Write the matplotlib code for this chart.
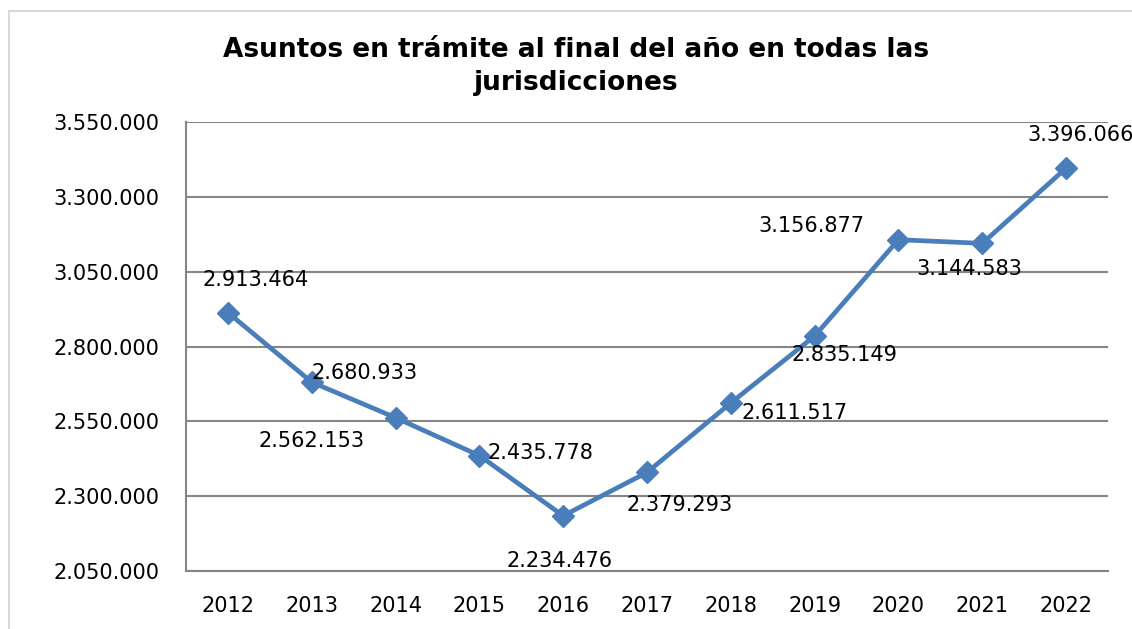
import matplotlib.pyplot as plt
from matplotlib.patches import Rectangle

years = ["2012", "2013", "2014", "2015", "2016", "2017", "2018", "2019", "2020", "2021", "2022"]
asuntos = [2913464, 2680933, 2562153, 2435778, 2234476, 2379293, 2611517, 2835149, 3156877, 3144583, 3396066]
# label offsets in pixels, relative to each point
label_dx = [28, 53, -84, 61, -4, 33, 64, 30, -87, -13, 15]
label_dy = [33, 9, -23, 3, -45, -33, -10, -19, 14, -26, 33]
y_ticks = [2050000, 2300000, 2550000, 2800000, 3050000, 3300000, 3550000]


def fmt(v):
    return f"{v:,}".replace(",", ".")


plt.rcParams['font.family'] = ['DejaVu Sans']

fig = plt.figure(figsize=(11.32, 6.29), dpi=100)
ax = fig.add_axes([0.1643, 0.0922, 0.8145, 0.7138])

# outer chart border
fig.patches.append(Rectangle((9 / 1132, -0.1), 1.2, 1.0825, transform=fig.transFigure,
                             fill=False, edgecolor="#D9D9D9", linewidth=1.5))

x = list(range(len(years)))
ax.plot(x, asuntos, color="#4A7EBB", linewidth=3.4, marker="D", markersize=11,
        markerfacecolor="#4A7EBB", markeredgecolor="#4A7EBB", zorder=3, clip_on=False)

for i, v in enumerate(asuntos):
    ax.annotate(fmt(v), (x[i], v), xytext=(label_dx[i], label_dy[i]), textcoords="offset pixels",
                ha="center", va="center", fontsize=15, annotation_clip=False)

ax.set_xlim(-0.5, len(years) - 0.5)
ax.set_ylim(y_ticks[0], y_ticks[-1])
ax.set_xticks(x)
ax.set_xticklabels(years, fontsize=15)
ax.set_yticks(y_ticks)
ax.set_yticklabels([fmt(t) for t in y_ticks], fontsize=15)
ax.tick_params(length=0)
ax.tick_params(axis="x", pad=18)
ax.tick_params(axis="y", pad=19)

ax.grid(axis="y", color="#868686", linewidth=1.5)
ax.set_axisbelow(True)
for s in ["top", "right"]:
    ax.spines[s].set_visible(False)
for s in ["left", "bottom"]:
    ax.spines[s].set_color("#868686")
    ax.spines[s].set_linewidth(1.5)

fig.text(0.509, 0.895, "Asuntos en trámite al final del año en todas las\njurisdicciones",
         ha="center", va="center", fontsize=19, fontweight="bold", linespacing=1.35)

fig.savefig("out.png", dpi=100)
